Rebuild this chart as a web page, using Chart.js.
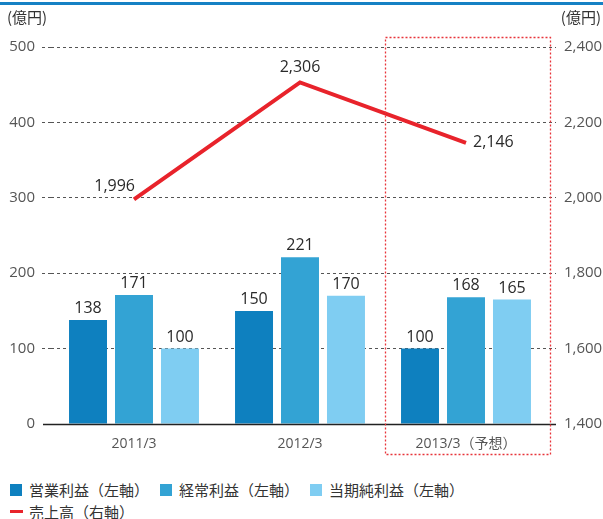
<!DOCTYPE html>
<html><head><meta charset="utf-8">
<script src="https://cdn.jsdelivr.net/npm/chart.js@4/dist/chart.umd.min.js"></script>
<style>
html,body{margin:0;padding:0;background:#fff;width:603px;height:519px;overflow:hidden;position:relative;font-family:"Open Sans","Noto Sans CJK JP",sans-serif;}
#topbar{position:absolute;left:0;top:2px;width:603px;height:3px;background:#1581c4;}
#wrap{position:absolute;left:0;top:0;width:603px;height:470px;}
.lg{position:absolute;font-size:15px;color:#333;white-space:nowrap;line-height:20px;}
.sw{position:absolute;width:12px;height:12px;}
</style></head>
<body>
<div id="topbar"></div>
<div id="wrap"><canvas id="c" width="603" height="470"></canvas></div>
<div id="legend"></div>
<script>
const categories = ["2011/3", "2012/3", "2013/3（予想）"];
const operatingProfit = [138, 150, 100];
const ordinaryProfit = [171, 221, 168];
const netProfit = [100, 170, 165];
const sales = [1996, 2306, 2146];
const leftTicks = [0, 100, 200, 300, 400, 500];
const rightTicks = [1400, 1600, 1800, 2000, 2200, 2400];
const seriesNames = ["営業利益（左軸）", "経常利益（左軸）", "当期純利益（左軸）", "売上高（右軸）"];
const colors = ["#0e80bf", "#33a3d4", "#7fcdf2", "#e8232b"];

const FONT = '"Open Sans","Noto Sans CJK JP",sans-serif';
const fmt = v => v.toLocaleString('en-US');

// legend (HTML)
const lg = document.getElementById('legend');
const pos = [[10,480],[160,480],[310,480]];
for (let i=0;i<3;i++){
  const s=document.createElement('div'); s.className='sw';
  s.style.left=pos[i][0]+'px'; s.style.top=(pos[i][1]+4)+'px'; s.style.background=colors[i];
  lg.appendChild(s);
  const t=document.createElement('div'); t.className='lg'; t.textContent=seriesNames[i];
  t.style.left=(pos[i][0]+19)+'px'; t.style.top=pos[i][1]+'px';
  lg.appendChild(t);
}
{
  const s=document.createElement('div'); s.style.position='absolute';
  s.style.left='10px'; s.style.top='510px'; s.style.width='13px'; s.style.height='3px'; s.style.background=colors[3];
  lg.appendChild(s);
  const t=document.createElement('div'); t.className='lg'; t.textContent=seriesNames[3];
  t.style.left='29px'; t.style.top='502px'; lg.appendChild(t);
}

const overlay = {
  id:'overlay',
  afterDatasetsDraw(chart){
    const ctx=chart.ctx, ca=chart.chartArea;
    const x=chart.scales.x, y=chart.scales.y;
    ctx.save();
    // baseline
    ctx.strokeStyle='#222'; ctx.lineWidth=1.5; ctx.setLineDash([]);
    const y0=Math.round(y.getPixelForValue(0))+0.5;
    ctx.beginPath(); ctx.moveTo(ca.left-8,y0); ctx.lineTo(ca.right+7,y0); ctx.stroke();
    // bar labels
    ctx.fillStyle='#2a2a2a'; ctx.font='16px '+FONT; ctx.textAlign='center'; ctx.textBaseline='alphabetic';
    for (let d=0; d<3; d++){
      const meta=chart.getDatasetMeta(d);
      meta.data.forEach((el,i)=>{
        ctx.fillText(String(chart.data.datasets[d].data[i]), el.x, el.y-7);
      });
    }
    // line labels
    const lm=chart.getDatasetMeta(3);
    ctx.textBaseline='middle';
    lm.data.forEach((el,i)=>{
      const v=fmt(sales[i]);
      if(i===0){ctx.textAlign='right'; ctx.fillText(v, el.x+1, el.y-13);}
      else if(i===1){ctx.textAlign='center'; ctx.fillText(v, el.x, el.y-15);}
      else {ctx.textAlign='left'; ctx.fillText(v, el.x+7, el.y);}
    });
    // forecast box
    const cw=(x.getPixelForValue(1)-x.getPixelForValue(0));
    const cx=x.getPixelForValue(2);
    ctx.strokeStyle='#e8343a'; ctx.lineWidth=1.3; ctx.setLineDash([2,2]);
    ctx.strokeRect(Math.round(cx-cw/2)+2.5, ca.top-9.5, cw-1, 417);
    // unit labels
    ctx.setLineDash([]);
    ctx.fillStyle='#333'; ctx.font='15px "Noto Sans CJK JP",sans-serif'; ctx.textBaseline='middle';
    ctx.textAlign='left'; ctx.fillText('(億円)', 7, 17);
    ctx.textAlign='right'; ctx.fillText('(億円)', 601, 17);
    ctx.restore();
  }
};

new Chart(document.getElementById('c'), {
  data:{
    labels:categories,
    datasets:[
      {type:'bar', label:seriesNames[0], data:operatingProfit, backgroundColor:colors[0], yAxisID:'y', order:2, categoryPercentage:0.831, barPercentage:0.826},
      {type:'bar', label:seriesNames[1], data:ordinaryProfit, backgroundColor:colors[1], yAxisID:'y', order:2, categoryPercentage:0.831, barPercentage:0.826},
      {type:'bar', label:seriesNames[2], data:netProfit, backgroundColor:colors[2], yAxisID:'y', order:2, categoryPercentage:0.831, barPercentage:0.826},
      {type:'line', label:seriesNames[3], data:sales, borderColor:colors[3], borderWidth:4, pointRadius:0, yAxisID:'y2', order:1, tension:0}
    ]
  },
  options:{
    responsive:false, animation:false,
    layout:{padding:{top:47,left:0,right:0,bottom:0}},
    plugins:{legend:{display:false}, tooltip:{enabled:false}},
    scales:{
      x:{
        grid:{display:false}, border:{display:false},
        ticks:{color:'#555', font:{family:FONT,size:14}, padding:4},
        afterFit(s){s.height=46;}
      },
      y:{
        position:'left', min:0, max:500,
        afterBuildTicks(s){s.ticks=leftTicks.map(v=>({value:v}));},
        ticks:{color:'#555', font:{family:FONT,size:15}, padding:7, callback:v=>fmt(v)},
        grid:{color:c=>c.tick && c.tick.value===0?'rgba(0,0,0,0)':'#555', lineWidth:1, tickLength:9, tickColor:c=>c.tick && c.tick.value===0?'rgba(0,0,0,0)':'#555', tickBorderDash:[3,3]},
        border:{display:false, dash:[3,3]},
        afterFit(s){s.width=51;}
      },
      y2:{
        position:'right', min:1400, max:2400,
        afterBuildTicks(s){s.ticks=rightTicks.map(v=>({value:v}));},
        ticks:{color:'#555', font:{family:FONT,size:15}, padding:8, callback:v=>fmt(v)},
        grid:{drawOnChartArea:false, tickLength:7, tickColor:c=>c.tick && c.tick.value===1400?'rgba(0,0,0,0)':'#555', tickBorderDash:[3,3]},
        border:{display:false},
        afterFit(s){s.width=54;}
      }
    }
  },
  plugins:[overlay]
});
</script>
</body></html>
